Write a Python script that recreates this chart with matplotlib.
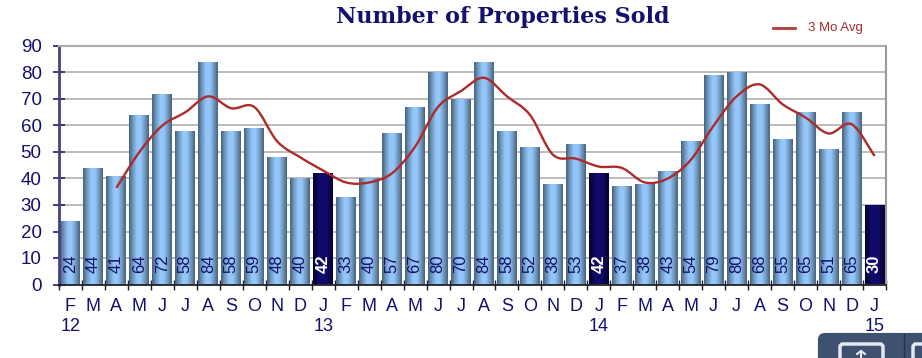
import numpy as np
import matplotlib
matplotlib.use("Agg")
import matplotlib.pyplot as plt
from matplotlib.colors import LinearSegmentedColormap
from matplotlib.patches import FancyBboxPatch
from matplotlib.path import Path
from matplotlib.patches import PathPatch
from matplotlib.transforms import Affine2D

title = "Number of Properties Sold"
series_name = "3 Mo Avg"
months = list("FMAMJJASONDJFMAMJJASONDJFMAMJJASONDJ")
years = {0: "12", 11: "13", 23: "14", 35: "15"}
sold = [24, 44, 41, 64, 72, 58, 84, 58, 59, 48, 40, 42,
        33, 40, 57, 67, 80, 70, 84, 58, 52, 38, 53, 42,
        37, 38, 43, 54, 79, 80, 68, 55, 65, 51, 65, 30]
highlight = [11, 23, 35]
avg_start = 2
avg = [36.5, 50, 60, 65, 71, 66.5, 67, 54, 48, 43, 38.5, 38.5, 42, 52,
       67, 73, 78, 71, 64, 49, 47.5, 44.5, 44, 38.5, 40, 47, 60, 71, 75.5,
       68, 63, 57, 60.5, 48.5]
yticks = list(range(0, 100, 10))

NAVY = "#14106b"
SANS = ["Liberation Sans", "DejaVu Sans"]

W, H = 922, 358
fig = plt.figure(figsize=(W / 100, H / 100), dpi=100, facecolor="white")
ax = fig.add_axes([59 / W, 1 - 284.5 / H, (886 - 59) / W, (284.5 - 46) / H])

blue = LinearSegmentedColormap.from_list("b", ["#4a627c", "#7099c0", "#93c6f9", "#93c6f9", "#7099c0", "#4a627c"])
dark = LinearSegmentedColormap.from_list("d", ["#06002f", "#100a6a", "#100a6a", "#06002f"])
grad = np.linspace(0, 1, 64).reshape(1, -1)

xs = np.arange(len(sold)) + 0.5
bars = ax.bar(xs, sold, width=0.87, color="#93c6f9", zorder=3, linewidth=0)
for i, b in enumerate(bars):
    im = ax.imshow(grad, cmap=dark if i in highlight else blue, aspect="auto", zorder=3.1,
                   extent=(b.get_x(), b.get_x() + b.get_width(), 0, b.get_height()))
    im.set_clip_path(b)
    ax.text(xs[i], 4.2, str(sold[i]), rotation=90, ha="center", va="bottom", zorder=4,
            fontsize=12, family=SANS, fontweight="bold" if i in highlight else "normal",
            color="white" if i in highlight else NAVY)

# smooth curve through the averages (cubic Bezier segments)
px = xs[avg_start:avg_start + len(avg)]
py = np.array(avg)
verts = [(px[0], py[0])]
codes = [Path.MOVETO]
k = 1 / 6
for i in range(len(px) - 1):
    a, d = max(i - 1, 0), min(i + 2, len(px) - 1)
    verts += [(px[i] + (px[i + 1] - px[a]) * k, py[i] + (py[i + 1] - py[a]) * k),
              (px[i + 1] - (px[d] - px[i]) * k, py[i + 1] - (py[d] - py[i]) * k),
              (px[i + 1], py[i + 1])]
    codes += [Path.CURVE4] * 3
ax.add_patch(PathPatch(Path(verts, codes), fill=False, edgecolor="#ad2b2b", linewidth=1.7, zorder=5))

ax.set_xlim(0, 36)
ax.set_ylim(0, 90)
ax.set_yticks(yticks)
ax.set_yticklabels([str(t) for t in yticks], fontsize=13.5, family=SANS, color=NAVY)
ax.tick_params(axis="y", direction="inout", length=9, width=1.2, color="#2a1a70", pad=8)
ax.grid(axis="y", color="#bcbcbc", linewidth=1.4, zorder=1)
ax.set_axisbelow(True)

ax.set_xticks(np.arange(0, 37))
ax.set_xticklabels([])
ax.tick_params(axis="x", which="major", direction="inout", length=7, width=1, color="#222222")
ax.set_xticks(xs, minor=True)
ax.set_xticklabels([m + ("\n" + years[i] if i in years else "") for i, m in enumerate(months)],
                   minor=True, fontsize=13, family=SANS, color=NAVY, linespacing=1.2)
ax.tick_params(axis="x", which="minor", length=0, pad=10)

ax.spines["top"].set_color("#ababab")
ax.spines["top"].set_linewidth(1.5)
ax.spines["right"].set_color("#999999")
ax.spines["right"].set_linewidth(1.5)
ax.spines["left"].set_color("#4b3f82")
ax.spines["left"].set_linewidth(2)
ax.spines["bottom"].set_color("#111111")
ax.spines["bottom"].set_linewidth(1.2)
for s in ax.spines.values():
    s.set_zorder(6)

fig.text(502.5 / W, 1 - 16.5 / H, title, ha="center", va="center", fontsize=16,
         family=["DejaVu Serif"], fontweight="bold", color=NAVY)

px_tf = Affine2D().scale(1 / W, -1 / H).translate(0, 1) + fig.transFigure
fig.add_artist(plt.Line2D([773, 795], [27.5, 27.5], color="#b23a3a", linewidth=2, transform=px_tf))
fig.text(808 / W, 1 - 28 / H, series_name, ha="left", va="center", fontsize=9.5,
         family=SANS, color="#a52a2a")

# window button overlapping the lower right corner
fig.add_artist(FancyBboxPatch((820, 335), 120, 40, boxstyle="round,pad=0,rounding_size=5",
                              facecolor="#3f5170", edgecolor="#3f5170", linewidth=3, transform=px_tf))
fig.add_artist(plt.Line2D([904, 904], [334, 358], color="#26324a", linewidth=1, transform=px_tf))
fig.add_artist(FancyBboxPatch((840, 344), 43, 24, boxstyle="round,pad=0,rounding_size=3",
                              facecolor="#3f5170", edgecolor="#e4e8f2", linewidth=2.5, transform=px_tf))
fig.add_artist(FancyBboxPatch((913, 344), 30, 24, boxstyle="round,pad=0,rounding_size=3",
                              facecolor="#3f5170", edgecolor="#e4e8f2", linewidth=2.5, transform=px_tf))
fig.add_artist(plt.Line2D([861, 861], [351, 358], color="#e4e8f2", linewidth=1.5, transform=px_tf))
fig.add_artist(plt.Line2D([857, 861, 865], [354, 351, 354], color="#e4e8f2", linewidth=1.5, transform=px_tf))

fig.savefig("out.png", dpi=100)
